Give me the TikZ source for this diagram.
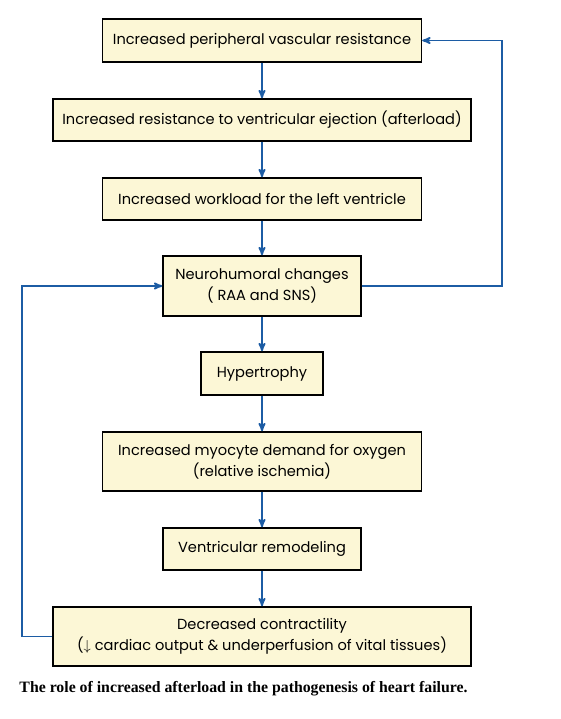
\documentclass[tikz,border=0pt]{standalone}
\usepackage{fontspec}
\setmainfont{Liberation Serif}
\newfontfamily\boxfont{Poppins}
\usetikzlibrary{arrows}

\definecolor{boxfill}{RGB}{252,247,214}
\definecolor{linkblue}{RGB}{28,92,164}

\begin{document}
\begin{tikzpicture}[x=1pt,y=-1pt,
  box/.style={draw=black, line width=1.4pt, fill=boxfill, align=center, inner sep=0pt,
    font=\boxfont\fontsize{14.6}{21}\selectfont},
  link/.style={draw=linkblue, line width=1.8pt, -stealth'}]
  \useasboundingbox (0,0) rectangle (561,719);
  % define the boxes
  \node[box, minimum width=319, minimum height=43] (pvr) at (262,40.5) {Increased peripheral vascular resistance};
  \node[box, minimum width=418, minimum height=42] (afterload) at (262,120) {Increased resistance to ventricular ejection (afterload)};
  \node[box, minimum width=319, minimum height=42] (workload) at (262,199) {Increased workload for the left ventricle};
  \node[box, minimum width=198, minimum height=60] (neuro) at (262,286) {Neurohumoral changes\\( RAA and SNS)};
  \node[box, minimum width=122, minimum height=43] (hyper) at (262,373.5) {Hypertrophy};
  \node[box, minimum width=319, minimum height=59] (oxygen) at (262,461.5) {Increased myocyte demand for oxygen\\(relative ischemia)};
  \node[box, minimum width=198, minimum height=42] (remodel) at (262,549) {Ventricular remodeling};
  \node[box, minimum width=418, minimum height=59] (contract) at (262,636.5) {Decreased contractility\\($\downarrow$ cardiac output \& underperfusion of vital tissues)};
  % caption
  \node[font=\bfseries\fontsize{15.8}{18}\selectfont] (caption) at (243.5,689) {The role of increased afterload in the pathogenesis of heart failure.};
  % corner points of the loops
  \coordinate (rightturn) at (502,40.5);
  \coordinate (leftturn) at (22,286);
  % draw the arrows
  \draw[link] (pvr) -- (afterload);
  \draw[link] (afterload) -- (workload);
  \draw[link] (workload) -- (neuro);
  \draw[link] (neuro) -- (hyper);
  \draw[link] (hyper) -- (oxygen);
  \draw[link] (oxygen) -- (remodel);
  \draw[link] (remodel) -- (contract);
  \draw[link] (neuro.east) -| (rightturn) -- (pvr.east);
  \draw[link] (contract.west) -| (leftturn) -- (neuro.west);
\end{tikzpicture}
\end{document}
